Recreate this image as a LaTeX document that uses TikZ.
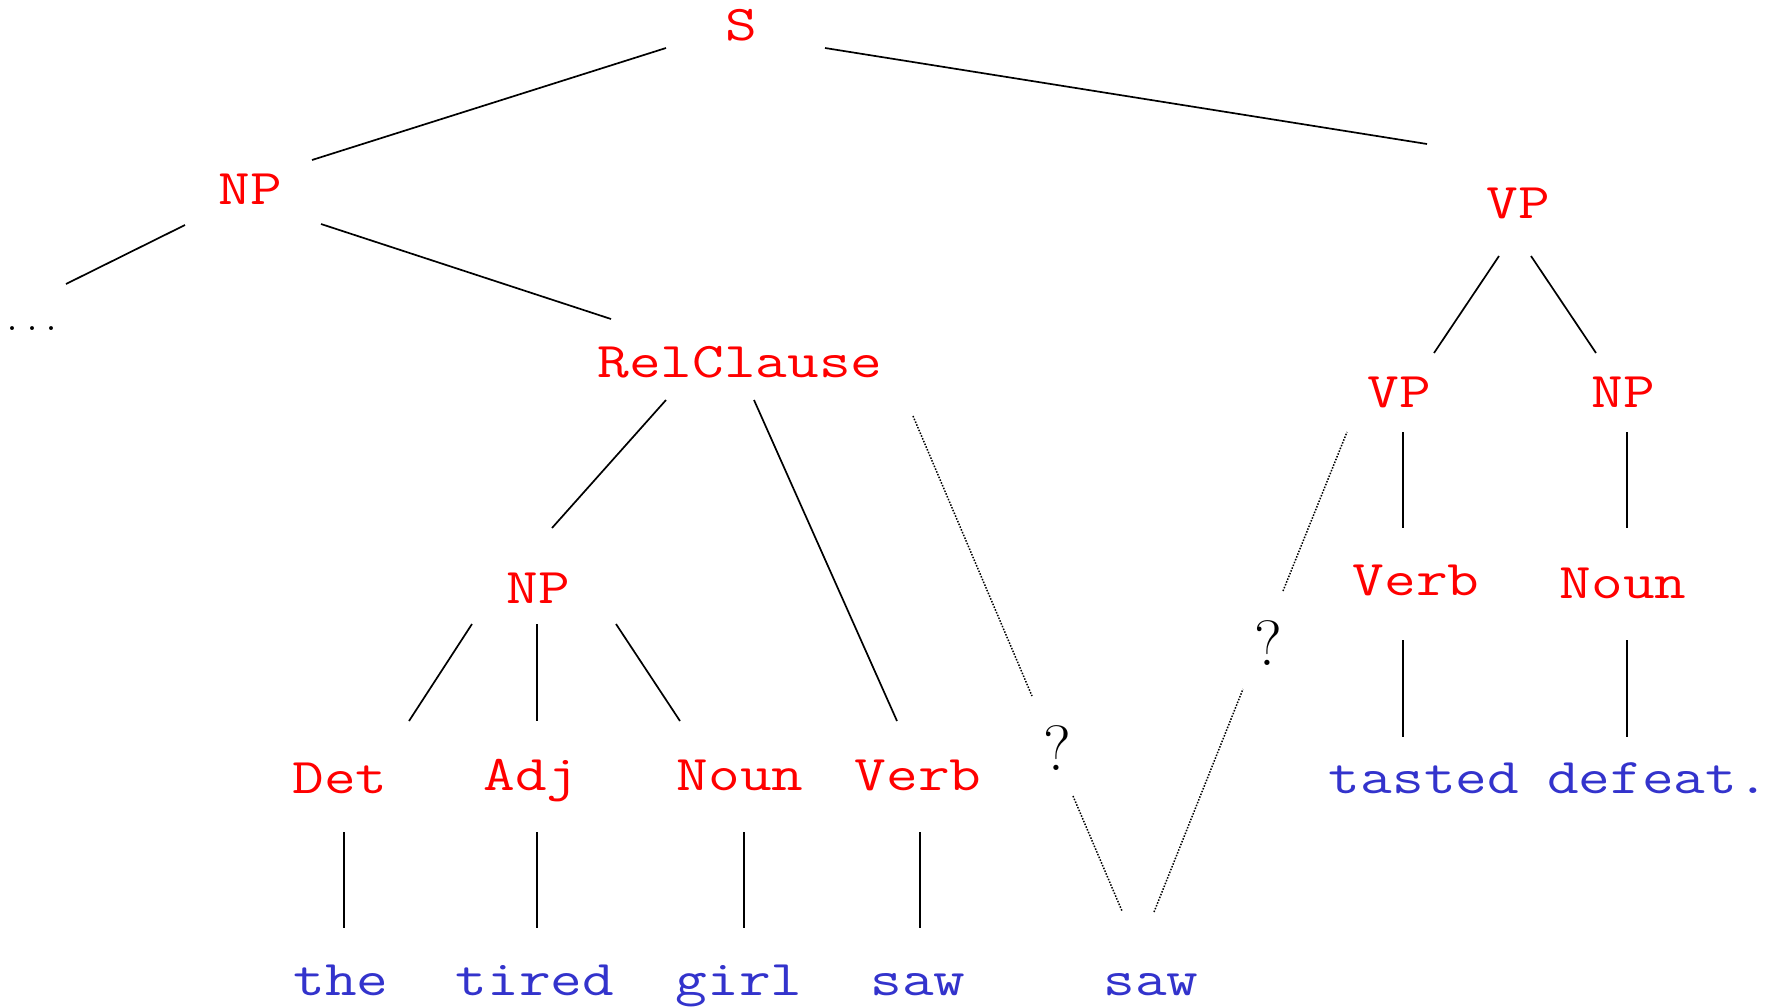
\documentclass[tikz,border=0pt]{standalone}
\usepackage{graphicx}
\usetikzlibrary{calc}
\definecolor{wordblue}{RGB}{51,51,204}
\newcommand{\cw}[1]{\scalebox{1.23}[1]{#1}}
\begin{document}
\begin{tikzpicture}[x=1pt,y=-1pt,
  cat/.style={anchor=base, inner sep=0pt, text=red, font=\fontsize{50}{56}\selectfont\ttfamily},
  word/.style={anchor=base, inner sep=0pt, text=wordblue, font=\fontsize{50}{56}\selectfont\ttfamily},
  qm/.style={anchor=base, inner sep=0pt, font=\fontsize{64}{72}\selectfont},
  dotsnode/.style={anchor=base, inner sep=0pt, font=\fontsize{48}{56}\selectfont},
  link/.style={line width=1.7pt},
  guess/.style={line width=1.5pt, dash pattern=on 1.5pt off 1.5pt}]
\useasboundingbox (0,0) rectangle (1781,1007);
% categories
\node[cat] (S) at (741,40) {\cw{S}};
\node[cat] (NP1) at (250,204) {\cw{NP}};
\node[dotsnode] (dots) at (32,330) {.\kern0.166em.\kern0.166em.};
\node[cat] (Rel) at (740,377) {\cw{RelClause}};
\node[cat] (VP1) at (1518,218) {\cw{VP}};
\node[cat] (VP2) at (1399,407) {\cw{VP}};
\node[cat] (NP3) at (1623,407) {\cw{NP}};
\node[cat] (Verb2) at (1416,595) {\cw{Verb}};
\node[cat] (Noun2) at (1623,598) {\cw{Noun}};
\node[cat] (NP2) at (538,603) {\cw{NP}};
\node[cat] (Det) at (340,793) {\cw{Det}};
\node[cat] (Adj) at (531,790) {\cw{Adj}};
\node[cat] (Noun1) at (740,790) {\cw{Noun}};
\node[cat] (Verb1) at (918,790) {\cw{Verb}};
% words
\node[word] (the) at (341,995) {\cw{the}};
\node[word] (tired) at (535,995) {\cw{tired}};
\node[word] (girl) at (739,995) {\cw{girl}};
\node[word] (saw1) at (918,995) {\cw{saw}};
\node[word] (saw2) at (1151,995) {\cw{saw}};
\node[word] (tasted) at (1424,793) {\cw{tasted}};
\node[word] (defeat) at (1658,793) {\cw{defeat.}};
% question marks
\node[qm] (Q1) at (1057,770) {?};
\node[qm] (Q2) at (1268,665) {?};
% solid links
\draw[link] ($(S.base)+(-75,8)$) -- ($(NP1.base)+(62,-44)$);
\draw[link] ($(S.base)+(84,8)$) -- ($(VP1.base)+(-91,-74)$);
\draw[link] ($(NP1.base)+(-65,21)$) -- ($(dots.base)+(34,-46)$);
\draw[link] ($(NP1.base)+(71,20)$) -- ($(Rel.base)+(-129,-58)$);
\draw[link] ($(Rel.base)+(-74,23)$) -- ($(NP2.base)+(14,-75)$);
\draw[link] ($(Rel.base)+(14,23)$) -- ($(Verb1.base)+(-21,-69)$);
\draw[link] ($(NP2.base)+(-66,21)$) -- ($(Det.base)+(69,-72)$);
\draw[link] ($(NP2.base)+(-1,21)$) -- ($(Adj.base)+(6,-69)$);
\draw[link] ($(NP2.base)+(78,21)$) -- ($(Noun1.base)+(-60,-69)$);
\draw[link] ($(Det.base)+(4,39)$) -- ($(the.base)+(3,-67)$);
\draw[link] ($(Adj.base)+(6,42)$) -- ($(tired.base)+(2,-67)$);
\draw[link] ($(Noun1.base)+(4,42)$) -- ($(girl.base)+(5,-67)$);
\draw[link] ($(Verb1.base)+(2,42)$) -- ($(saw1.base)+(2,-67)$);
\draw[link] ($(VP1.base)+(-19,38)$) -- ($(VP2.base)+(35,-54)$);
\draw[link] ($(VP1.base)+(13,38)$) -- ($(NP3.base)+(-27,-54)$);
\draw[link] ($(VP2.base)+(4,25)$) -- ($(Verb2.base)+(-13,-67)$);
\draw[link] ($(NP3.base)+(4,25)$) -- ($(Noun2.base)+(4,-70)$);
\draw[link] ($(Verb2.base)+(-13,45)$) -- ($(tasted.base)+(-21,-56)$);
\draw[link] ($(Noun2.base)+(4,42)$) -- ($(defeat.base)+(-31,-56)$);
% dotted guesses
\draw[guess] ($(Rel.base)+(173,39)$) -- ($(Q1.base)+(-25,-74)$);
\draw[guess] ($(Q1.base)+(16,26)$) -- ($(saw2.base)+(-29,-84)$);
\draw[guess] ($(saw2.base)+(3,-83)$) -- ($(Q2.base)+(-25,24)$);
\draw[guess] ($(Q2.base)+(15,-74)$) -- ($(VP2.base)+(-52,25)$);
\end{tikzpicture}
\end{document}
